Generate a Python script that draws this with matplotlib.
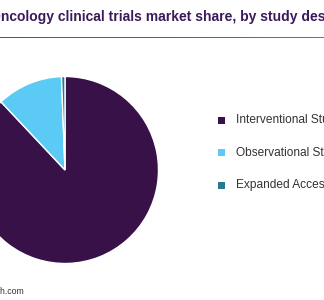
import matplotlib
matplotlib.use('Agg')
import numpy as np
import matplotlib.pyplot as plt
from matplotlib.colors import LinearSegmentedColormap
from matplotlib.patches import Rectangle

# Chart data
categories = ['Interventional Studies', 'Observational Studies', 'Expanded Access']
shares = [88.0, 11.4, 0.6]
colors = ['#371148', '#5bcbf5', '#2b7a8c']
title = 'Oncology clinical trials market share, by study design'
source = 'Source: www.grandviewresearch.com'

W, H = 324, 300
fig = plt.figure(figsize=(W / 100, H / 100), dpi=100)
fig.patch.set_facecolor('white')

def px(x, y):
    return x / W, 1 - y / H

# Title (cropped at both sides like the reference)
fig.text(*px(-10.5, 17), title, ha='left', va='center', fontsize=10.0,
         fontweight='bold', color='#3a1a5c', family='Liberation Sans')

# Gradient rule under title
line_ax = fig.add_axes([0, 1 - 38.5 / H, 1, 2 / H])
grad = np.linspace(0, 1, 256).reshape(1, -1)
cmap = LinearSegmentedColormap.from_list('rule', ['#3d58a6', '#6a4fa8', '#8a5cb2'])
line_ax.imshow(grad, aspect='auto', cmap=cmap, extent=[0, 1, 0, 1])
line_ax.set_axis_off()

# Pie
cx, cy, r = 65, 170, 93.5
pie_ax = fig.add_axes([(cx - r) / W, 1 - (cy + r) / H, 2 * r / W, 2 * r / H])
pie_ax.pie(shares, colors=colors, startangle=90, counterclock=False,
           radius=1, wedgeprops=dict(edgecolor='white', linewidth=1.0))
pie_ax.set_xlim(-1, 1)
pie_ax.set_ylim(-1, 1)
pie_ax.set_axis_off()

# Legend
for i, (lab, col) in enumerate(zip(categories, colors)):
    y = 120 + i * 32.5
    fig.patches.append(Rectangle(px(218, y + 3.5), 7 / W, 7 / H, transform=fig.transFigure,
                                 facecolor=col, edgecolor='none'))
    fig.text(*px(236, y), lab, ha='left', va='center', fontsize=8.6,
             color='#333333', family='Liberation Sans')

# Source
fig.text(*px(24, 291), source, ha='right', va='center', fontsize=6.3,
         color='#333333', family='Liberation Sans')

fig.savefig('out.png', dpi=100)
